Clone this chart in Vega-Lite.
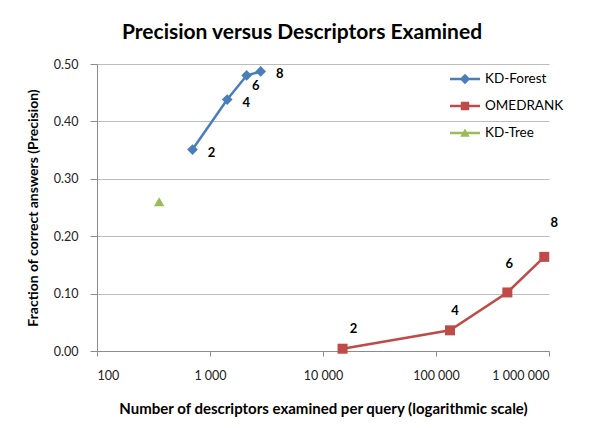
{
  "$schema": "https://vega.github.io/schema/vega-lite/v6.json",
  "width": 452,
  "height": 287,
  "autosize": {"type": "none"},
  "padding": {"left": 97, "top": 64, "right": 43, "bottom": 77},
  "background": "white",
  "title": {
    "text": "Precision versus Descriptors Examined",
    "font": "Lato",
    "fontSize": 21,
    "fontWeight": "bold",
    "color": "#000000",
    "anchor": "middle",
    "dx": -21,
    "offset": 15
  },
  "config": {
    "view": {"stroke": null},
    "axis": {
      "labelFont": "Lato",
      "labelFontSize": 12.5,
      "labelColor": "#222222",
      "titleFont": "Lato",
      "titleFontSize": 14,
      "titleFontWeight": "bold",
      "titleColor": "#000000",
      "domainColor": "#8c8c8c",
      "tickColor": "#8c8c8c",
      "gridColor": "#bdbdbd",
      "tickSize": 5
    },
    "legend": {
      "orient": "none",
      "padding": 0,
      "symbolSize": 400,
      "rowPadding": 10,
      "labelOffset": 10,
      "labelFont": "Lato",
      "labelFontSize": 13.5,
      "labelColor": "#000000",
      "symbolStrokeWidth": 0,
      "symbolOpacity": 1
    }
  },
  "data": {
    "values": [
      {"series": "KD-Forest", "desc": 700, "precision": 0.351, "label": "2"},
      {"series": "KD-Forest", "desc": 1420, "precision": 0.438, "label": "4"},
      {"series": "KD-Forest", "desc": 2110, "precision": 0.480, "label": "6"},
      {"series": "KD-Forest", "desc": 2810, "precision": 0.487, "label": "8"},
      {"series": "OMEDRANK", "desc": 14900, "precision": 0.004, "label": "2"},
      {"series": "OMEDRANK", "desc": 133000, "precision": 0.036, "label": "4"},
      {"series": "OMEDRANK", "desc": 428000, "precision": 0.102, "label": "6"},
      {"series": "OMEDRANK", "desc": 908000, "precision": 0.164, "label": "8"},
      {"series": "KD-Tree", "desc": 355, "precision": 0.26, "label": ""}
    ]
  },
  "encoding": {
    "x": {
      "field": "desc",
      "type": "quantitative",
      "scale": {"type": "log", "domain": [100, 1000000], "nice": false},
      "axis": {
        "title": "Number of descriptors examined per query (logarithmic scale)",
        "values": [100, 1000, 10000, 100000, 1000000],
        "labelExpr": "replace(replace(format(datum.value, ','), ',', ' '), ',', ' ')",
        "grid": false,
        "labelPadding": 13,
        "titleY": 57,
        "titleBaseline": "middle",
        "titleFontSize": 15
      }
    },
    "y": {
      "field": "precision",
      "type": "quantitative",
      "scale": {"domain": [0, 0.5], "nice": false},
      "axis": {
        "title": "Fraction of correct answers (Precision)",
        "values": [0, 0.1, 0.2, 0.3, 0.4, 0.5],
        "format": ".2f",
        "grid": true,
        "tickSize": 7,
        "labelPadding": 12,
        "titleX": -64,
        "titleBaseline": "middle"
      }
    }
  },
  "layer": [
    {
      "transform": [{"filter": "datum.series === 'KD-Forest'"}],
      "mark": {"type": "line", "strokeWidth": 2.5, "color": "#4A7EBB"}
    },
    {
      "transform": [{"filter": "datum.series === 'OMEDRANK'"}],
      "mark": {"type": "line", "strokeWidth": 2.5, "color": "#BE4B48"}
    },
    {
      "transform": [{"filter": "datum.series === 'KD-Forest'"}],
      "mark": {"type": "point", "shape": "diamond", "filled": true, "size": 115, "opacity": 1, "color": "#4A7EBB"}
    },
    {
      "transform": [{"filter": "datum.series === 'OMEDRANK'"}],
      "mark": {"type": "point", "shape": "square", "filled": true, "size": 100, "opacity": 1, "color": "#BE4B48"}
    },
    {
      "transform": [{"filter": "datum.series === 'KD-Tree'"}],
      "mark": {"type": "point", "shape": "triangle-up", "filled": true, "size": 110, "opacity": 1, "color": "#9BBB59"}
    },
    {
      "transform": [{"filter": "datum.precision > 1"}],
      "mark": {"type": "point", "filled": true},
      "encoding": {
        "color": {
          "field": "series",
          "type": "nominal",
          "scale": {
            "domain": ["KD-Forest", "OMEDRANK", "KD-Tree"],
            "range": ["#4A7EBB", "#BE4B48", "#9BBB59"]
          },
          "legend": {"title": null, "orient": "none", "legendX": 358, "legendY": 5}
        },
        "shape": {
          "field": "series",
          "type": "nominal",
          "scale": {
            "domain": ["KD-Forest", "OMEDRANK", "KD-Tree"],
            "range": [
              "M-1.5,-0.13H1.5V0.13H-1.5Z M0,-0.52L0.52,0L0,0.52L-0.52,0Z",
              "M-1.5,-0.13H1.5V0.13H-1.5Z M-0.42,-0.42H0.42V0.42H-0.42Z",
              "M-1.5,-0.13H1.5V0.13H-1.5Z M0,-0.45L0.48,0.38H-0.48Z"
            ]
          },
          "legend": {"title": null, "orient": "none", "legendX": 358, "legendY": 5}
        }
      }
    },
    {
      "transform": [{"filter": "datum.series === 'KD-Forest' && datum.label !== '6'"}],
      "mark": {"type": "text", "font": "Lato", "fontSize": 13, "fontWeight": "bold", "dx": 19, "dy": 3, "color": "#000000"},
      "encoding": {"text": {"field": "label"}}
    },
    {
      "transform": [{"filter": "datum.series === 'KD-Forest' && datum.label === '6'"}],
      "mark": {"type": "text", "font": "Lato", "fontSize": 13, "fontWeight": "bold", "dx": 9, "dy": 11, "color": "#000000"},
      "encoding": {"text": {"field": "label"}}
    },
    {
      "transform": [{"filter": "datum.series === 'OMEDRANK' && datum.label === '2'"}],
      "mark": {"type": "text", "font": "Lato", "fontSize": 13, "fontWeight": "bold", "dx": 11, "dy": -20, "color": "#000000"},
      "encoding": {"text": {"field": "label"}}
    },
    {
      "transform": [{"filter": "datum.series === 'OMEDRANK' && datum.label === '4'"}],
      "mark": {"type": "text", "font": "Lato", "fontSize": 13, "fontWeight": "bold", "dx": 5, "dy": -19, "color": "#000000"},
      "encoding": {"text": {"field": "label"}}
    },
    {
      "transform": [{"filter": "datum.series === 'OMEDRANK' && datum.label === '6'"}],
      "mark": {"type": "text", "font": "Lato", "fontSize": 13, "fontWeight": "bold", "dx": 2, "dy": -28, "color": "#000000"},
      "encoding": {"text": {"field": "label"}}
    },
    {
      "transform": [{"filter": "datum.series === 'OMEDRANK' && datum.label === '8'"}],
      "mark": {"type": "text", "font": "Lato", "fontSize": 13, "fontWeight": "bold", "dx": 10, "dy": -34, "color": "#000000"},
      "encoding": {"text": {"field": "label"}}
    }
  ]
}
